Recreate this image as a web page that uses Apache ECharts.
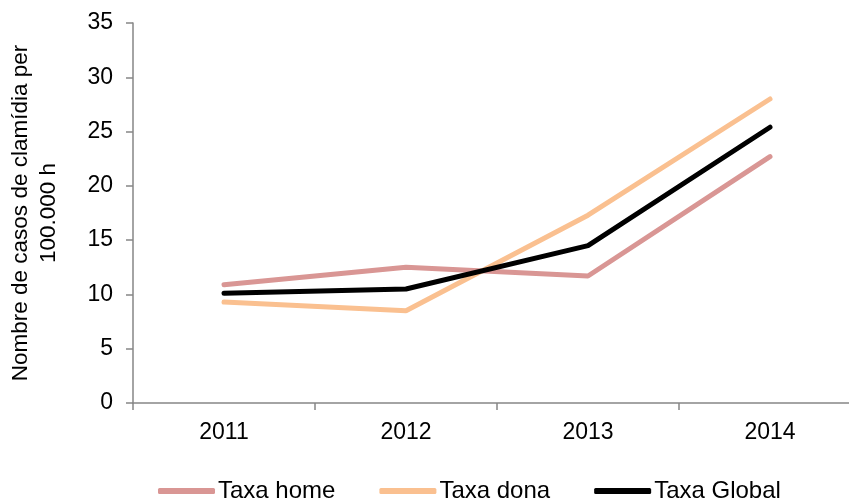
<!DOCTYPE html>
<html>
<head>
<meta charset="utf-8">
<script src="https://cdn.jsdelivr.net/npm/echarts@6/dist/echarts.min.js"></script>
<style>
  html, body { margin: 0; padding: 0; background: #fff; }
  #chart { width: 849px; height: 502px; }
</style>
</head>
<body>
<div id="chart"></div>
<script>
const years = ['2011', '2012', '2013', '2014']
const taxaHome = [10.9, 12.5, 11.7, 22.7]
const taxaDona = [9.3, 8.5, 17.3, 28.0]
const taxaGlobal = [10.1, 10.5, 14.5, 25.4]

const axisColor = '#868686'
const font = 'Liberation Sans, Arial, sans-serif'

const chart = echarts.init(document.getElementById('chart'))

chart.setOption({
  animation: false,
  grid: { left: 133, right: -12, top: 23, bottom: 99, containLabel: false, outerBoundsMode: 'none' },
  legend: {
    bottom: -1,
    left: 158,
    padding: 0,
    icon: 'roundRect',
    itemWidth: 57,
    itemHeight: 6,
    itemGap: 44,
    textStyle: { fontFamily: font, fontSize: 24, color: '#000', padding: [0, 0, 0, -2] },
    data: ['Taxa home', 'Taxa dona', 'Taxa Global']
  },
  xAxis: {
    type: 'category',
    data: years,
    boundaryGap: true,
    axisLine: { lineStyle: { color: axisColor, width: 1.5 } },
    axisTick: { show: true, length: 7, lineStyle: { color: axisColor, width: 1.5 } },
    axisLabel: { color: '#000', fontFamily: font, fontSize: 23, margin: 18 }
  },
  yAxis: {
    type: 'value',
    min: 0,
    max: 35,
    interval: 5,
    name: 'Nombre de casos de clamídia per\n100.000 h',
    nameLocation: 'middle',
    nameGap: 70,
    nameTextStyle: { color: '#000', fontFamily: font, fontSize: 22.5, lineHeight: 28 },
    axisLine: { show: true, lineStyle: { color: axisColor, width: 1.5 } },
    axisTick: { show: true, length: 7, lineStyle: { color: axisColor, width: 1.5 } },
    axisLabel: { color: '#000', fontFamily: font, fontSize: 23, margin: 20 },
    splitLine: { show: false }
  },
  series: [
    {
      name: 'Taxa home',
      type: 'line',
      data: taxaHome,
      symbol: 'none',
      lineStyle: { color: '#D99694', width: 5, cap: 'round' },
      itemStyle: { color: '#D99694' }
    },
    {
      name: 'Taxa dona',
      type: 'line',
      data: taxaDona,
      symbol: 'none',
      lineStyle: { color: '#FAC090', width: 5, cap: 'round' },
      itemStyle: { color: '#FAC090' }
    },
    {
      name: 'Taxa Global',
      type: 'line',
      data: taxaGlobal,
      symbol: 'none',
      lineStyle: { color: '#000000', width: 5, cap: 'round' },
      itemStyle: { color: '#000000' }
    }
  ]
})
</script>
</body>
</html>
